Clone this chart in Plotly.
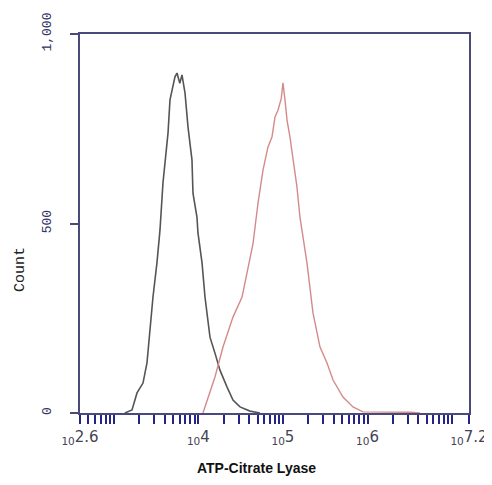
import numpy as np
import plotly.graph_objects as go

# Isotype / unstained control (black) - log10 intensity and counts
ctrl_log = [3.13, 3.215, 3.274, 3.345, 3.392, 3.428, 3.463, 3.510, 3.546, 3.581, 3.605,
            3.641, 3.664, 3.700, 3.723, 3.747, 3.780, 3.806, 3.842, 3.877, 3.924, 3.936,
            3.983, 3.995, 4.043, 4.078, 4.137, 4.196, 4.255, 4.338, 4.409, 4.492, 4.610, 4.728]
ctrl_cnt = [0, 8, 53, 79, 132, 219, 306, 396, 483, 607, 660,
            739, 826, 860, 887, 897, 870, 892, 844, 755, 668, 580,
            517, 475, 396, 306, 200, 158, 113, 69, 34, 16, 5, 0]

# ATP-Citrate Lyase stained (red)
acl_log = [4.054, 4.137, 4.196, 4.291, 4.409, 4.516, 4.575, 4.646, 4.705, 4.764, 4.823,
           4.870, 4.906, 4.941, 4.980, 5.000, 5.024, 5.048, 5.083, 5.119, 5.166, 5.201,
           5.237, 5.284, 5.355, 5.438, 5.521, 5.592, 5.710, 5.828, 5.946, 6.147, 6.500, 6.620]
acl_cnt = [0, 53, 95, 174, 253, 306, 369, 447, 554, 641, 702,
           728, 781, 799, 830, 871, 826, 773, 728, 675, 596, 517,
           464, 396, 264, 174, 132, 87, 42, 16, 3, 3, 2, 0]

x_label_pos = [2.6, 4, 5, 6, 7.2]
x_label_txt = ["2.6", "4", "5", "6", "7.2"]
y_ticks = [0, 500, 1000]
y_labels = ["0", "500", "1,000"]

XMIN, XMAX = 2.6, 7.2

minor_vals = []
for d in range(2, 8):
    for m in range(1, 10):
        lv = np.log10(m * 10 ** d)
        if XMIN - 1e-9 <= lv <= XMAX + 1e-9:
            minor_vals.append(m * 10 ** d)
minor_vals += [10 ** XMIN, 10 ** XMAX]

tickvals = [10 ** v for v in x_label_pos]
ticktext = ["<sub>10</sub>" + t for t in x_label_txt]

fig = go.Figure()
fig.add_trace(go.Scatter(x=np.power(10, ctrl_log), y=ctrl_cnt, mode="lines",
                         line=dict(color="#555555", width=1.6),
                         showlegend=False))
fig.add_trace(go.Scatter(x=np.power(10, acl_log), y=acl_cnt, mode="lines",
                         line=dict(color="#d48a8a", width=1.4),
                         showlegend=False))

axis_col = "#4a4a7a"
tick_col = "#23238a"
fig.update_xaxes(type="log", range=[XMIN, XMAX], tickvals=tickvals, ticktext=ticktext,
                 ticks="outside", ticklen=9, tickwidth=2, tickcolor=tick_col,
                 minor=dict(tickvals=minor_vals, ticks="outside", ticklen=9,
                            tickwidth=2, tickcolor=tick_col, showgrid=False),
                 showline=True, linecolor=axis_col, linewidth=2, mirror=True,
                 showgrid=False, zeroline=False, automargin=False,
                 tickfont=dict(family="DejaVu Sans", size=15, color="#444455"))
fig.update_yaxes(range=[0, 1000], tickvals=y_ticks, ticktext=y_labels,
                 ticks="outside", ticklen=8, tickwidth=1.5, tickcolor=axis_col,
                 tickangle=-90, ticklabelstandoff=14,
                 showline=True, linecolor=axis_col, linewidth=2, mirror=True,
                 showgrid=False, zeroline=False, automargin=False,
                 tickfont=dict(family="Liberation Mono", size=13, color="#333366"))

# page offset of 8px (browser body margin) compensated here
OFF = 8
W, H = 492 - OFF, 485 - OFF
L, R, T, B = 80 - OFF, 23, 34 - OFF, 72


def px_to_paper(px, py):
    px -= OFF
    py -= OFF
    return (px - L) / (W - L - R), 1 - (py - T) / (H - T - B)


cx, cy = px_to_paper(20, 270)
fig.add_annotation(text="Count", x=cx, y=cy, xref="paper", yref="paper",
                   xanchor="center", yanchor="middle",
                   showarrow=False, textangle=-90,
                   font=dict(family="Liberation Mono", size=15, color="#222222"))
ax_, ay_ = px_to_paper(256, 468)
fig.add_annotation(text="<b>ATP-Citrate Lyase</b>", x=ax_, y=ay_, xref="paper", yref="paper",
                   xanchor="center", yanchor="middle", showarrow=False,
                   font=dict(family="Liberation Sans", size=14, color="#111111"))

fig.update_layout(width=W, height=H, margin=dict(l=L, r=R, t=T, b=B, autoexpand=False),
                  plot_bgcolor="white", paper_bgcolor="white")
fig.write_html("out.html")
